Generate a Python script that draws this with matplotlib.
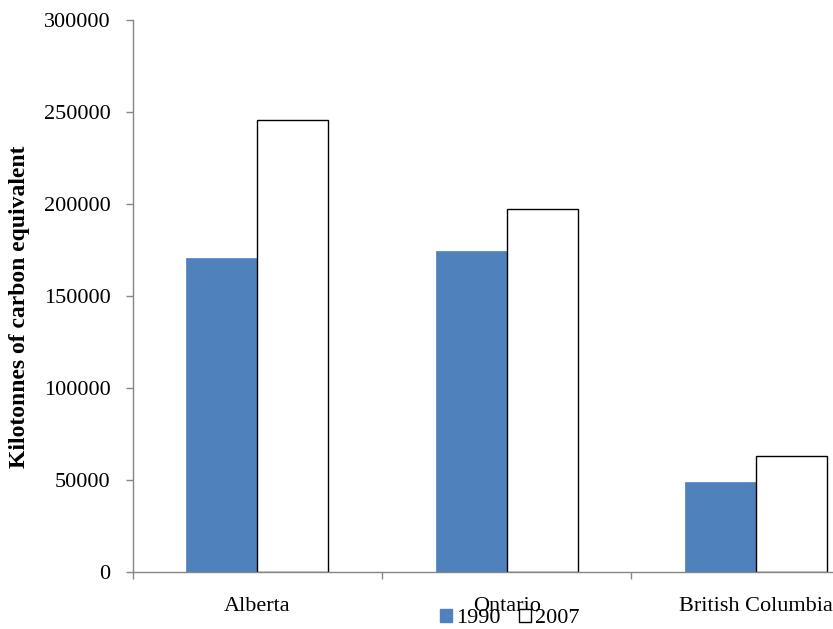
import matplotlib
matplotlib.use("Agg")
import matplotlib.pyplot as plt
from matplotlib.patches import Rectangle
import numpy as np

provinces = ["Alberta", "Ontario", "British Columbia"]
emissions_1990 = [170900, 174700, 49200]
emissions_2007 = [245700, 197300, 63200]
yticks = [0, 50000, 100000, 150000, 200000, 250000, 300000]

plt.rcParams["font.family"] = ["Liberation Serif", "DejaVu Serif"]

fig = plt.figure(figsize=(8.33, 6.29), dpi=100)
ax = fig.add_axes([0.1593, 0.0901, 0.898, 0.878])

x = np.arange(len(provinces))
w = 0.285
blue = "#4F81BD"
ax.bar(x - w / 2, emissions_1990, width=w, color=blue, edgecolor=blue, linewidth=0.5)
ax.bar(x + w / 2, emissions_2007, width=w, color="white", edgecolor="black", linewidth=1.0)

ax.set_xlim(-0.5, len(provinces) - 0.5)
ax.set_ylim(0, 300000)

gray = "#868686"
for s in ("top", "right"):
    ax.spines[s].set_visible(False)
for s in ("left", "bottom"):
    ax.spines[s].set_color(gray)
    ax.spines[s].set_linewidth(1.0)

ax.set_yticks(yticks)
ax.set_yticklabels([str(v) for v in yticks])
ax.tick_params(axis="y", direction="out", length=5, width=1, color=gray,
               labelsize=16, pad=11)

# category labels centred under each group, tick marks between groups
ax.set_xticks(x)
ax.set_xticklabels(provinces)
ax.tick_params(axis="x", which="major", length=0, labelsize=16, pad=18)
ax.set_xticks(np.arange(-0.5, len(provinces) + 0.5, 1.0), minor=True)
ax.tick_params(axis="x", which="minor", direction="out", length=5, width=1, color=gray)

ax.set_ylabel("Kilotonnes of carbon equivalent", fontsize=17, fontweight="bold")
ax.yaxis.set_label_coords(-0.137, 0.48)

handles = [Rectangle((0, 0), 1, 1, facecolor=blue, edgecolor=blue),
           Rectangle((0, 0), 1, 1, facecolor="white", edgecolor="black", linewidth=1.0)]
fig.legend(handles, ["1990", "2007"], loc="center", bbox_to_anchor=(0.612, 0.017),
           ncol=2, frameon=False, fontsize=16, handlelength=0.55, handleheight=0.55,
           handletextpad=0.2, columnspacing=0.8, borderaxespad=0, borderpad=0)

fig.savefig("out.png", dpi=100)
